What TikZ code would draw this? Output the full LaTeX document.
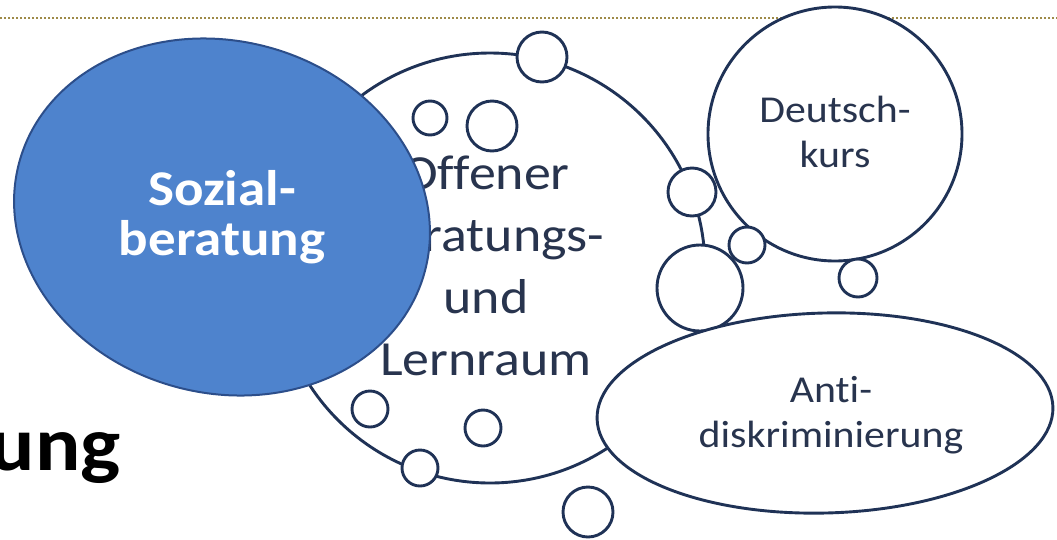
\documentclass[tikz,border=0pt]{standalone}
\usepackage{fontspec}
\newfontfamily\carl{Carlito}[FakeStretch=1.1, Ligatures={NoCommon}]
\definecolor{outl}{RGB}{31,50,86}
\definecolor{txt}{RGB}{40,52,78}
\definecolor{bluefill}{RGB}{78,131,205}
\definecolor{blueline}{RGB}{44,78,138}
\definecolor{dotcol}{RGB}{158,138,72}
\tikzset{
  bubble/.style={draw=outl, line width=2.9pt, fill=white},
  lbl/.style={text=txt, align=center, inner sep=0pt},
}
\begin{document}
\begin{tikzpicture}[x=1pt,y=-1pt]
\useasboundingbox (0,0) rectangle (1057,539);
% dotted header line
\coordinate (dl) at (0,18);
\coordinate (dr) at (1057,18);
\draw[dotcol, line width=2.4pt, dash pattern=on 2.3pt off 1.7pt] (dl) -- (dr);
% title fragment
\node[anchor=base east, inner sep=0pt, font={\carl\bfseries\fontsize{77}{77}\selectfont}] (title) at (121,470) {ung};
% big circle
\draw[bubble] (490,268) circle [radius=215];
\node[lbl, font={\carl\fontsize{49}{62}\selectfont}] (offen) at (486,266) {Offener\\Beratungs-\\und\\Lernraum};
% small circles on / in big circle
\draw[bubble] (430,118) circle [radius=17];
\draw[bubble] (492,126) circle [radius=25];
\draw[bubble] (370,409) circle [radius=18];
\draw[bubble] (483,428) circle [radius=18];
\draw[bubble] (420,468) circle [radius=18];
\draw[bubble] (542,57) circle [radius=25];
% Sozialberatung
\draw[fill=bluefill, draw=blueline, line width=2pt, rotate around={-15:(222,217)}] (222,217) ellipse [x radius=210, y radius=176];
\node[align=center, inner sep=0pt, text=white, font={\carl\bfseries\fontsize{50}{50}\selectfont}] (sozial) at (222,217) {Sozial-\\beratung};
% Deutschkurs
\draw[bubble] (835,134) circle [radius=127];
\node[lbl, font={\carl\fontsize{38}{45}\selectfont}] (deutsch) at (835,132) {Deutsch-\\kurs};
\draw[bubble] (692,192) circle [radius=24];
\draw[bubble] (700,288) circle [radius=43];
\draw[bubble] (747,245) circle [radius=18];
\draw[bubble] (858,278) circle [radius=19];
% Antidiskriminierung
\draw[bubble, rotate around={1.5:(825,413)}] (825,413) ellipse [x radius=228, y radius=100];
\node[lbl, font={\carl\fontsize{38}{45}\selectfont}] (anti) at (831,415) {Anti-\\diskriminierung};
\draw[bubble] (588,512) circle [radius=25];
\end{tikzpicture}
\end{document}
